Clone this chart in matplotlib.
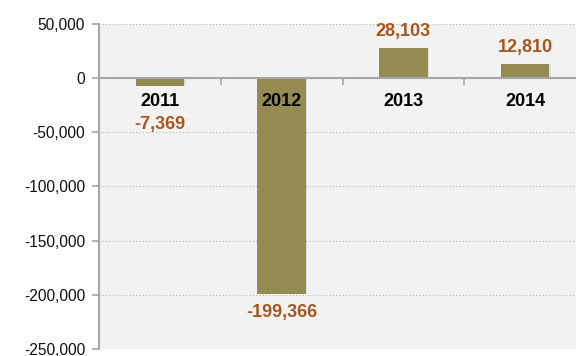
import matplotlib.pyplot as plt
from matplotlib.ticker import FuncFormatter

years = ["2011", "2012", "2013", "2014"]
values = [-7369, -199366, 28103, 12810]
yticks = [50000, 0, -50000, -100000, -150000, -200000, -250000]

bar_color = "#958a52"
label_color = "#a8561d"
axis_color = "#a6a6a6"

plt.rcParams["font.family"] = ["Liberation Sans", "DejaVu Sans"]

fig = plt.figure(figsize=(5.76, 3.56), dpi=100)
ax = fig.add_axes([99 / 576, 1 - 349 / 356, 487 / 576, 325 / 356])
ax.set_facecolor("#f2f2f2")

x = list(range(len(years)))
# soft shadow under the bars
ax.bar([i + 0.012 for i in x], values, width=0.4, color="#000000", alpha=0.07,
       zorder=2)
ax.bar(x, values, width=0.4, color=bar_color, zorder=3)

ax.set_xlim(-0.5, 3.5)
ax.set_ylim(-250000, 50000)
ax.set_yticks(yticks)
ax.yaxis.set_major_formatter(FuncFormatter(lambda v, p: f"{int(v):,}"))
ax.tick_params(axis="y", labelsize=11.2, colors=axis_color, labelcolor="#111111",
               length=5, width=1.2, pad=5)
ax.grid(axis="y", linestyle=(0, (1, 2)), color="#b5b5b5", linewidth=0.8, zorder=1)

ax.spines["top"].set_visible(False)
ax.spines["right"].set_visible(False)
ax.spines["left"].set_color(axis_color)
ax.spines["left"].set_linewidth(1.5)
ax.spines["bottom"].set_position(("data", 0))
ax.spines["bottom"].set_color(axis_color)
ax.spines["bottom"].set_linewidth(1.5)
ax.spines["bottom"].set_zorder(4)
ax.set_xticks([0.5, 1.5, 2.5])
ax.set_xticklabels([])
ax.tick_params(axis="x", colors=axis_color, length=5, width=1.2, direction="out")

for i, (yr, v) in enumerate(zip(years, values)):
    ax.annotate(yr, (i, 0), xytext=(0, -17), textcoords="offset points",
                ha="center", va="center", fontsize=13, fontweight="bold",
                color="#000000", zorder=5)
    if v >= 0:
        ax.annotate(f"{v:,}", (i, v), xytext=(0, 12), textcoords="offset points",
                    ha="center", va="center", fontsize=13, fontweight="bold",
                    color=label_color, zorder=5)
    else:
        ax.annotate(f"{v:,}", (i, min(v, -26000)), xytext=(0, -13),
                    textcoords="offset points", ha="center", va="center",
                    fontsize=13, fontweight="bold", color=label_color, zorder=5)

fig.savefig("out.png", dpi=100)
